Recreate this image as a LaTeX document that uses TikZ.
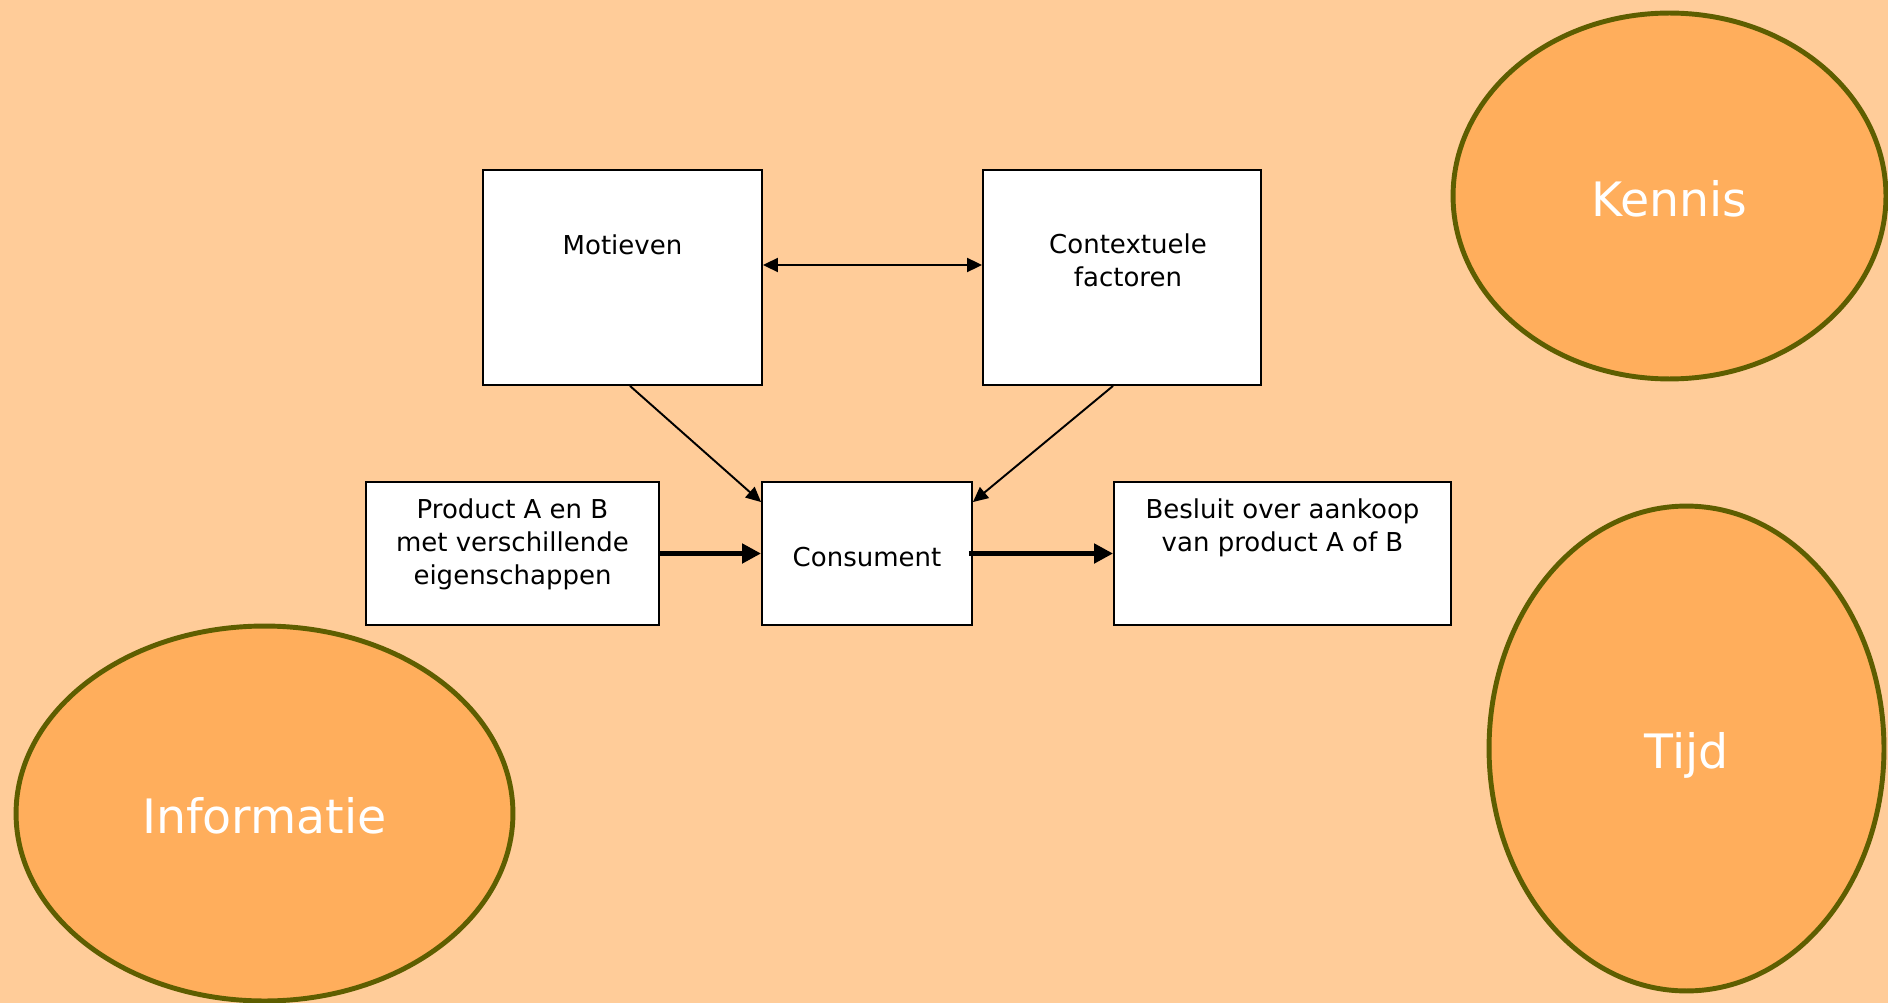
\documentclass[tikz,border=0pt]{standalone}
\usepackage{fontspec}
\setmainfont{DejaVu Sans}
\usepackage{xcolor}
\definecolor{ColBg}{RGB}{255,204,153}
\definecolor{ColBubble}{RGB}{255,174,92}
\definecolor{ColRim}{RGB}{94,94,0}
\usepackage{tikz}
\usetikzlibrary{shapes}
\usetikzlibrary{arrows.meta}
\tikzstyle{Box}=[rectangle,draw=black,fill=white,line width=1.1pt,
inner sep=0pt,font={\fontsize{14.8pt}{18.8pt}\selectfont},align=center]
\tikzstyle{BoxText}=[anchor=north,inner sep=0pt,align=center,
font={\fontsize{14.8pt}{18.8pt}\selectfont}]
\tikzstyle{Bubble}=[ellipse,draw=ColRim,fill=ColBubble,line width=2.8pt,
inner sep=0pt,text=white,font={\fontsize{27pt}{32pt}\selectfont}]
\tikzstyle{Edge}=[draw=black,line width=1.1pt,
-{Triangle[length=0.3cm,width=0.28cm]}]
\tikzstyle{EdgeBoth}=[draw=black,line width=1.1pt,
{Triangle[length=0.3cm,width=0.28cm]}-{Triangle[length=0.3cm,width=0.28cm]}]
\tikzstyle{EdgeThick}=[draw=black,line width=3.3pt,
-{Triangle[length=0.38cm,width=0.38cm]}]

\begin{document}
\begin{tikzpicture}[x=0.02cm,y=-0.02cm]
        \useasboundingbox(0,0)rectangle(1888,1003);
        \fill[ColBg](0,0)rectangle(1888,1003);
        % bubbles
        \node[Bubble,minimum width=8.66cm,minimum height=7.32cm,
            text height=0.82cm](kennis)
            at(1669.5,196){Kennis};
        \node[Bubble,minimum width=7.9cm,minimum height=9.7cm,
            text height=1.01cm](tijd)
            at(1686.5,748.5){Tijd};
        \node[Bubble,minimum width=9.94cm,minimum height=7.5cm,
            text height=0.82cm](informatie)
            at(264.5,813.5){Informatie};
        % boxes
        \node[Box,minimum width=5.58cm,minimum height=4.3cm,
            label={[BoxText,yshift=-1.31cm]north:Motieven}](motieven)
            at(622.5,277.5){};
        \node[Box,minimum width=5.56cm,minimum height=4.3cm,
            label={[BoxText,yshift=-1.29cm,xshift=0.12cm]north:Contextuele\\factoren}](contextuele)
            at(1122,277.5){};
        \node[Box,minimum width=5.86cm,minimum height=2.86cm,
            label={[BoxText,yshift=-0.35cm]north:Product A en B\\met verschillende\\eigenschappen}](product)
            at(512.5,553.5){};
        \node[Box,minimum width=4.2cm,minimum height=2.86cm,
            text height=0.545cm](consument)
            at(867,553.5){Consument};
        \node[Box,minimum width=6.74cm,minimum height=2.86cm,
            label={[BoxText,yshift=-0.35cm]north:Besluit over aankoop\\van product A of B}](besluit)
            at(1282.5,553.5){};
        % connectors
        \draw[EdgeBoth]([yshift=0.25cm]motieven.east)--([yshift=0.25cm]contextuele.west);
        \draw[Edge]([xshift=0.15cm]motieven.south)--([yshift=-0.42cm]consument.north west);
        \draw[Edge]([xshift=-0.18cm]contextuele.south)--([yshift=-0.42cm]consument.north east);
        \draw[EdgeThick](product.east)--(consument.west);
        \draw[EdgeThick]([xshift=-0.08cm]consument.east)--(besluit.west);
    \end{tikzpicture}
\end{document}
